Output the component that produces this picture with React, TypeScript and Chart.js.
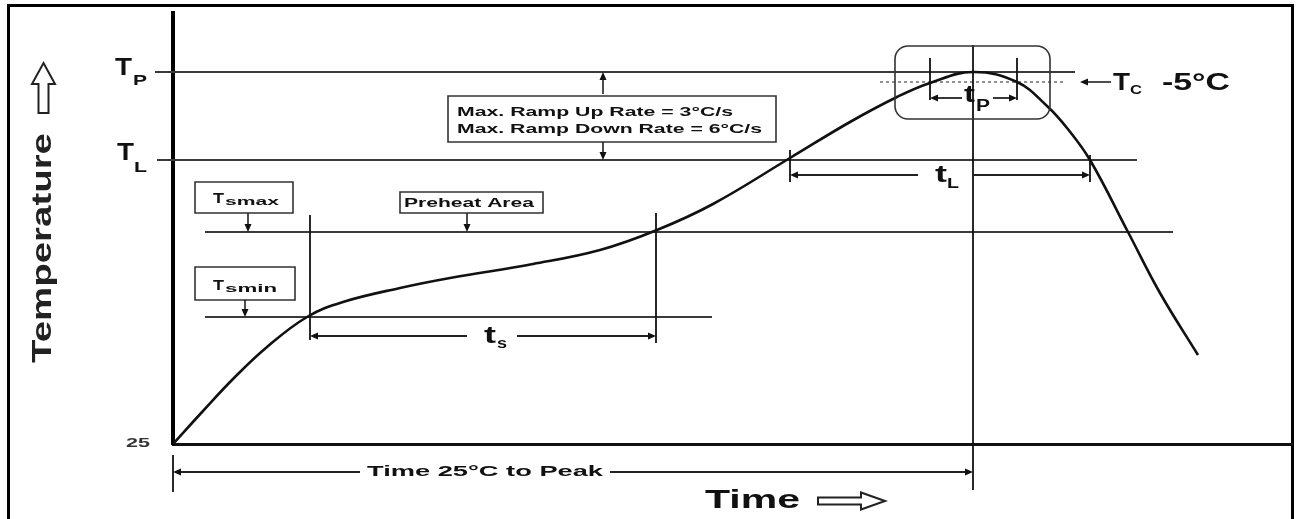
import React, { useEffect, useRef } from "react";
import { Chart, registerables } from "chart.js";

Chart.register(...registerables);

// Schematic units: time from the 25 °C start, temperature rise above the 25 °C baseline
const profileTime = [0, 30, 60, 94, 134, 170, 227, 277, 360, 427, 484, 540, 617, 677, 724, 757, 800, 844, 874, 894, 917, 955, 987, 1025];
const profileTemp = [0, 33, 65, 97, 127, 142, 156, 166, 180, 194, 214, 240, 286, 322, 347, 361, 372, 362, 338, 316, 284, 212, 151, 89];

// Horizontal temperature levels
const levelNames = ["Tp", "TL", "Tsmax", "Tsmin"];
const levelTemps = [372, 284, 212, 127];
const levelStart = [-18, -16, 32, 32];
const levelEnd = [902, 964, 1000, 539];

// Tc - 5 °C (dotted)
const tcTemp = 362;
const tcStart = 707;
const tcEnd = 890;

// Vertical time markers
const markerTimes = [137, 483, 617, 917, 800, 757, 844, 0];
const markerLow = [104, 101, 262, 262, -46, 344, 344, -48];
const markerHigh = [229, 231, 294, 289, 399, 386, 386, -11];

// Dimension spans (time intervals)
const spanNames = ["ts", "tL", "tp", "Time 25°C to Peak"];
const spanStart = [137, 617, 757, 0];
const spanEnd = [483, 917, 844, 800];
const spanLevel = [108, 269, 346, -28];
const spanGapStart = [294, 745, 789, 187];
const spanGapEnd = [344, 800, 820, 437];

const yTickLabels = ["25"];
const rampLines = ["Max. Ramp Up Rate = 3°C/s", "Max. Ramp Down Rate = 6°C/s"];

const X_MIN = 0;
const X_MAX = 1119;
const Y_MIN = 0;
const Y_MAX = 431;

const FONT = "'Liberation Sans', Arial, sans-serif";

function stretchText(
  ctx: CanvasRenderingContext2D,
  str: string,
  x: number,
  y: number,
  font: string,
  width: number,
  align: "left" | "center" | "right" = "left",
  baseline: CanvasTextBaseline = "alphabetic",
  color = "#111"
) {
  ctx.save();
  ctx.font = font;
  ctx.fillStyle = color;
  ctx.textAlign = "left";
  ctx.textBaseline = baseline;
  const w = ctx.measureText(str).width;
  const sx = width ? width / w : 1;
  let left = x;
  if (align === "center") left = x - (w * sx) / 2;
  else if (align === "right") left = x - w * sx;
  ctx.translate(left, y);
  ctx.scale(sx, 1);
  ctx.fillText(str, 0, 0);
  ctx.restore();
}

function seg(ctx: CanvasRenderingContext2D, x1: number, y1: number, x2: number, y2: number, w = 1.6, color = "#222", dash: number[] = []) {
  ctx.save();
  ctx.strokeStyle = color;
  ctx.lineWidth = w;
  ctx.setLineDash(dash);
  ctx.beginPath();
  ctx.moveTo(x1, y1);
  ctx.lineTo(x2, y2);
  ctx.stroke();
  ctx.restore();
}

function head(ctx: CanvasRenderingContext2D, tx: number, ty: number, dx: number, dy: number, len = 8, half = 3.5, color = "#111") {
  const px = -dy;
  const py = dx;
  ctx.save();
  ctx.fillStyle = color;
  ctx.beginPath();
  ctx.moveTo(tx, ty);
  ctx.lineTo(tx - dx * len + px * half, ty - dy * len + py * half);
  ctx.lineTo(tx - dx * len - px * half, ty - dy * len - py * half);
  ctx.closePath();
  ctx.fill();
  ctx.restore();
}

function arrow(ctx: CanvasRenderingContext2D, x1: number, y1: number, x2: number, y2: number, w = 1.6) {
  const L = Math.hypot(x2 - x1, y2 - y1) || 1;
  const dx = (x2 - x1) / L;
  const dy = (y2 - y1) / L;
  seg(ctx, x1, y1, x2 - dx * 4, y2 - dy * 4, w, "#222");
  head(ctx, x2, y2, dx, dy);
}

function box(ctx: CanvasRenderingContext2D, x1: number, y1: number, x2: number, y2: number) {
  ctx.save();
  ctx.strokeStyle = "#333";
  ctx.lineWidth = 1.6;
  ctx.fillStyle = "#fff";
  ctx.beginPath();
  ctx.rect(Math.min(x1, x2), Math.min(y1, y2), Math.abs(x2 - x1), Math.abs(y2 - y1));
  ctx.fill();
  ctx.stroke();
  ctx.restore();
}

const diagramPlugin = {
  id: "reflowDiagram",
  beforeDraw(chart: any) {
    const { ctx, width, height } = chart;
    ctx.save();
    ctx.fillStyle = "#fff";
    ctx.fillRect(0, 0, width, height);
    ctx.strokeStyle = "#000";
    ctx.lineWidth = 3;
    ctx.strokeRect(8.5, 5.5, 1284, height + 20);
    ctx.restore();
  },
  afterDatasetsDraw(chart: any) {
    const ctx: CanvasRenderingContext2D = chart.ctx;
    const xs = chart.scales.x;
    const ys = chart.scales.y;
    const X = (v: number) => xs.getPixelForValue(v);
    const Y = (v: number) => ys.getPixelForValue(v);
    const B = (s: number) => `bold ${s}px ${FONT}`;

    // Dimension spans
    spanNames.forEach((name, i) => {
      const y = Y(spanLevel[i]);
      const a = X(spanStart[i]);
      const b = X(spanEnd[i]);
      const g1 = X(spanGapStart[i]);
      const g2 = X(spanGapEnd[i]);
      seg(ctx, g1, y, a + 4, y, 1.8);
      head(ctx, a, y, -1, 0);
      seg(ctx, g2, y, b - 4, y, 1.8);
      head(ctx, b, y, 1, 0);
    });

    // ts label
    stretchText(ctx, "t", X(311), Y(101), B(24), 12);
    stretchText(ctx, "s", X(324), Y(96), B(14), 10);
    // tL label
    stretchText(ctx, "t", X(762), Y(262), B(24), 12);
    stretchText(ctx, "L", X(774), Y(256), B(15), 12);
    // tp label
    stretchText(ctx, "t", X(791), Y(342), B(24), 11);
    stretchText(ctx, "P", X(803), Y(333), B(16), 14);
    // Time 25°C to Peak
    stretchText(ctx, spanNames[3], X(312), Y(-28), B(14), 236, "center", "middle");

    // Level labels on the left
    stretchText(ctx, "T", X(-58), Y(369), B(24), 17);
    stretchText(ctx, "P", X(-40), Y(359), B(15), 14);
    stretchText(ctx, "T", X(-56), Y(284), B(24), 17);
    stretchText(ctx, "L", X(-39), Y(272), B(15), 13);
    stretchText(ctx, yTickLabels[0], X(-35), Y(0), B(12), 24, "center", "middle", "#333");

    // Tsmax box
    box(ctx, X(22), Y(262), X(120), Y(231));
    stretchText(ctx, "T", X(40), Y(241), B(15), 11);
    stretchText(ctx, "smax", X(52), Y(239), B(10), 54);
    arrow(ctx, X(75), Y(231), X(75), Y(levelTemps[2]));

    // Tsmin box
    box(ctx, X(22), Y(177), X(122), Y(144));
    stretchText(ctx, "T", X(40), Y(154), B(15), 11);
    stretchText(ctx, "smin", X(52), Y(152), B(10), 52);
    arrow(ctx, X(72), Y(144), X(72), Y(levelTemps[3]));

    // Preheat Area
    box(ctx, X(227), Y(252), X(370), Y(231));
    stretchText(ctx, "Preheat Area", X(296), Y(241), B(13), 130, "center", "middle");
    arrow(ctx, X(294), Y(231), X(294), Y(levelTemps[2]));

    // Ramp rate box
    box(ctx, X(275), Y(348), X(603), Y(302));
    stretchText(ctx, rampLines[0], X(284), Y(332), B(13), 276, "left", "middle");
    stretchText(ctx, rampLines[1], X(284), Y(315), B(13), 305, "left", "middle");
    arrow(ctx, X(430), Y(350), X(430), Y(levelTemps[0]));
    arrow(ctx, X(430), Y(302), X(430), Y(levelTemps[1]));

    // Peak rounded box
    ctx.save();
    ctx.strokeStyle = "#333";
    ctx.lineWidth = 1.6;
    ctx.beginPath();
    (ctx as any).roundRect(X(722), Y(398), X(877) - X(722), Y(325) - Y(398), 13);
    ctx.stroke();
    ctx.restore();

    // Tc -5°C
    arrow(ctx, X(938), Y(tcTemp), X(907), Y(tcTemp), 1.6);
    stretchText(ctx, "T", X(940), Y(354), B(24), 17);
    stretchText(ctx, "C", X(957), Y(350), B(13), 12);
    stretchText(ctx, "-5°C", X(989), Y(354), B(24), 68);

    // Axis titles
    ctx.save();
    ctx.translate(X(-130), Y(196));
    ctx.rotate(-Math.PI / 2);
    stretchText(ctx, "Temperature", 0, 0, B(28), 230, "center", "middle", "#222");
    ctx.restore();
    stretchText(ctx, "Time", X(532), Y(-64), B(26), 95, "left", "alphabetic", "#111");

    // Hollow arrows
    ctx.save();
    ctx.strokeStyle = "#222";
    ctx.lineWidth = 2;
    // up arrow
    const cx = X(-129.5);
    const ty = Y(381);
    const by = Y(331);
    ctx.beginPath();
    ctx.moveTo(cx, ty);
    ctx.lineTo(cx + 11.5, ty + 21);
    ctx.lineTo(cx + 5, ty + 21);
    ctx.lineTo(cx + 5, by);
    ctx.lineTo(cx - 5, by);
    ctx.lineTo(cx - 5, ty + 21);
    ctx.lineTo(cx - 11.5, ty + 21);
    ctx.closePath();
    ctx.stroke();
    // right arrow
    const lx = X(645);
    const tx = X(712);
    const cy = Y(-57);
    ctx.beginPath();
    ctx.moveTo(tx, cy);
    ctx.lineTo(tx - 24, cy - 8.5);
    ctx.lineTo(tx - 24, cy - 3.5);
    ctx.lineTo(lx, cy - 3.5);
    ctx.lineTo(lx, cy + 3.5);
    ctx.lineTo(tx - 24, cy + 3.5);
    ctx.lineTo(tx - 24, cy + 8.5);
    ctx.closePath();
    ctx.stroke();
    ctx.restore();
  },
};

export default function App() {
  const canvasRef = useRef<HTMLCanvasElement | null>(null);

  useEffect(() => {
    document.body.style.margin = "0";
    const canvas = canvasRef.current;
    if (!canvas) return;

    const pts = (xsArr: number[], ysArr: number[]) => xsArr.map((x, i) => ({ x, y: ysArr[i] }));

    const datasets: any[] = [
      {
        label: "Reflow profile",
        data: pts(profileTime, profileTemp),
        borderColor: "#111",
        borderWidth: 2.6,
        tension: 0.4,
        pointRadius: 0,
        clip: false,
        order: 0,
      },
      ...levelNames.map((name, i) => ({
        label: name,
        data: pts([levelStart[i], levelEnd[i]], [levelTemps[i], levelTemps[i]]),
        borderColor: "#3a3a3a",
        borderWidth: 1.8,
        pointRadius: 0,
        clip: false,
        order: 2,
      })),
      {
        label: "Tc -5°C",
        data: pts([tcStart, tcEnd], [tcTemp, tcTemp]),
        borderColor: "#777",
        borderWidth: 1.6,
        borderDash: [3, 3],
        pointRadius: 0,
        clip: false,
        order: 2,
      },
      ...markerTimes.map((t, i) => ({
        label: "marker" + i,
        data: pts([t, t], [markerLow[i], markerHigh[i]]),
        borderColor: "#111",
        borderWidth: 1.8,
        pointRadius: 0,
        clip: false,
        order: 1,
      })),
    ];

    const chart = new Chart(canvas, {
      type: "line",
      data: { datasets },
      options: {
        animation: false,
        responsive: false,
        maintainAspectRatio: false,
        layout: { padding: { left: 173, right: 4, top: 13, bottom: 75 } },
        plugins: { legend: { display: false }, tooltip: { enabled: false } },
        scales: {
          x: {
            type: "linear",
            min: X_MIN,
            max: X_MAX,
            grid: { display: false, drawTicks: false },
            ticks: { display: false },
            border: { display: true, color: "#111", width: 3 },
          },
          y: {
            type: "linear",
            min: Y_MIN,
            max: Y_MAX,
            grid: { display: false, drawTicks: false },
            ticks: { display: false },
            border: { display: true, color: "#000", width: 4 },
          },
        },
      },
      plugins: [diagramPlugin],
    });

    return () => chart.destroy();
  }, []);

  return (
    <div style={{ width: 1296, height: 519 }}>
      <canvas ref={canvasRef} width={1296} height={519} style={{ display: "block" }} />
    </div>
  );
}
